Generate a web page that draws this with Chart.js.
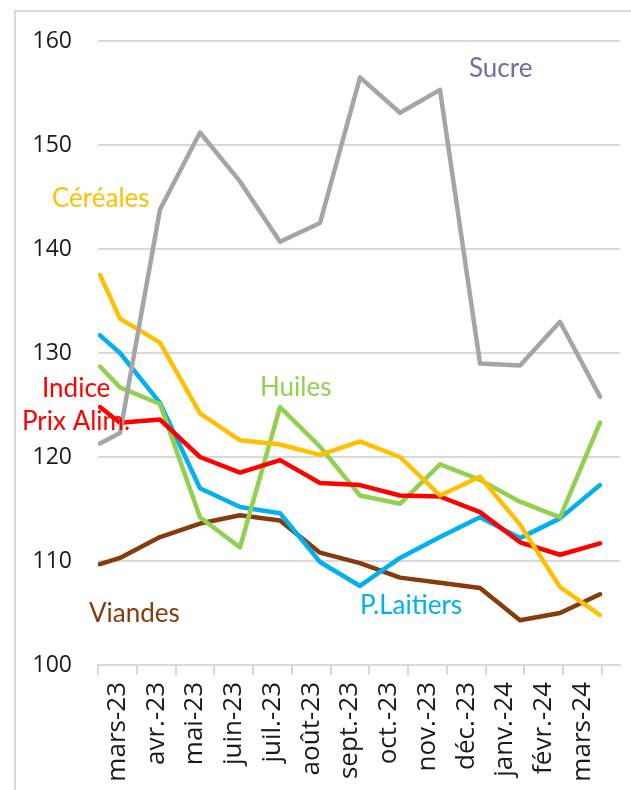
<!DOCTYPE html>
<html>
<head>
<meta charset="utf-8">
<script src="https://cdn.jsdelivr.net/npm/chart.js@4.4.1/dist/chart.umd.min.js"></script>
<style>
  body { margin: 0; background: #fff; }
  #wrap { position: relative; width: 631px; height: 790px; overflow: hidden; }
  #frame { position: absolute; left: 14px; top: 10px; width: 700px; height: 900px; border: 2px solid #d9d9d9; pointer-events: none; }
</style>
</head>
<body>
<div id="wrap">
  <canvas id="myChart" width="631" height="790"></canvas>
  <div id="frame"></div>
</div>
<script>
// month labels on the axis
const monthLabels = ['mars-23', 'avr.-23', 'mai-23', 'juin-23', 'juil.-23', 'août-23', 'sept.-23',
                     'oct.-23', 'nov.-23', 'déc.-23', 'janv.-24', 'févr.-24', 'mars-24'];
// month index of each point (mars-23 = 0, first point is mid-february)
const months = [-0.5, 0, 1, 2, 3, 4, 5, 6, 7, 8, 9, 10, 11, 12];

const sucre     = [121.3, 122.3, 143.8, 151.2, 146.5, 140.7, 142.5, 156.5, 153.1, 155.3, 129.0, 128.8, 133.0, 125.8];
const cereales  = [137.5, 133.3, 131.0, 124.2, 121.6, 121.2, 120.2, 121.5, 120.0, 116.3, 118.1, 113.5, 107.5, 104.8];
const indice    = [124.8, 123.3, 123.6, 120.0, 118.5, 119.7, 117.5, 117.3, 116.3, 116.2, 114.7, 111.8, 110.6, 111.7];
const huiles    = [128.7, 126.7, 125.1, 114.2, 111.3, 124.8, 121.0, 116.3, 115.5, 119.3, 117.8, 115.7, 114.2, 123.3];
const laitiers  = [131.7, 130.0, 125.2, 117.0, 115.2, 114.6, 109.9, 107.6, 110.3, 112.3, 114.2, 112.2, 114.1, 117.3];
const viandes   = [109.7, 110.3, 112.3, 113.6, 114.4, 113.9, 110.8, 109.8, 108.4, 107.9, 107.4, 104.3, 105.0, 106.8];

const yTicks = [100, 110, 120, 130, 140, 150, 160];

function pts(values) {
    return values.map((v, i) => ({ x: months[i], y: v }));
}

function serie(label, values, color) {
    return {
        label: label,
        data: pts(values),
        borderColor: color,
        backgroundColor: color,
        borderWidth: 4.5,
        pointRadius: 0,
        tension: 0,
        borderJoinStyle: 'round',
        borderCapStyle: 'round',
        xAxisID: 'xd',
        yAxisID: 'y'
    };
}

// series names written next to the lines
const notes = [
    { text: 'Sucre', x: 469, y: 77, color: '#6E6EA8' },
    { text: 'Céréales', x: 52, y: 207, color: '#FFC000' },
    { text: 'Indice', x: 42, y: 397, color: '#FF0000' },
    { text: 'Prix Alim.', x: 22, y: 430, color: '#FF0000' },
    { text: 'Huiles', x: 260, y: 396, color: '#92D050' },
    { text: 'Viandes', x: 89, y: 622, color: '#843C0C' },
    { text: 'P.Laitiers', x: 360, y: 614, color: '#00B0F0' }
];

const notesPlugin = {
    id: 'notes',
    afterDraw(chart) {
        const c = chart.ctx;
        c.save();
        c.font = '26px Lato';
        c.textAlign = 'left';
        c.textBaseline = 'alphabetic';
        notes.forEach(n => {
            c.fillStyle = n.color;
            c.fillText(n.text, n.x, n.y);
        });
        c.restore();
    }
};

const ctx = document.getElementById('myChart').getContext('2d');
const myChart = new Chart(ctx, {
    type: 'line',
    data: {
        datasets: [
            serie('Sucre', sucre, '#A5A5A5'),
            serie('Céréales', cereales, '#FFC000'),
            serie('Indice Prix Alim.', indice, '#FF0000'),
            serie('Huiles', huiles, '#92D050'),
            serie('P.Laitiers', laitiers, '#00B0F0'),
            serie('Viandes', viandes, '#843C0C')
        ]
    },
    options: {
        responsive: false,
        animation: false,
        layout: { padding: { left: 0, right: 11, top: 41, bottom: 0 } },
        plugins: {
            legend: { display: false },
            tooltip: { enabled: false }
        },
        scales: {
            xd: {
                type: 'linear',
                position: 'bottom',
                display: false,
                min: -0.55,
                max: 12.5
            },
            x: {
                type: 'linear',
                position: 'bottom',
                min: 0,
                max: 13.464,
                afterBuildTicks: axis => {
                    axis.ticks = monthLabels.map((_, i) => ({ value: i + 0.5 }));
                },
                afterFit: axis => { axis.height = 125; },
                grid: {
                    offset: true,
                    drawOnChartArea: false,
                    drawTicks: true,
                    tickLength: 10,
                    color: '#d9d9d9',
                    lineWidth: 2
                },
                border: { display: true, color: '#d9d9d9', width: 2 },
                ticks: {
                    autoSkip: false,
                    minRotation: 90,
                    maxRotation: 90,
                    padding: 7,
                    color: '#1a1a1a',
                    font: { family: 'Open Sans', size: 26 },
                    callback: (value, index) => monthLabels[index]
                }
            },
            y: {
                type: 'linear',
                min: 100,
                max: 160,
                afterBuildTicks: axis => {
                    axis.ticks = yTicks.map(v => ({ value: v }));
                },
                afterFit: axis => { axis.width = 98; },
                grid: {
                    drawTicks: false,
                    color: '#d9d9d9',
                    lineWidth: 2
                },
                border: { display: false },
                ticks: {
                    padding: 26,
                    color: '#1a1a1a',
                    font: { family: 'Open Sans', size: 23 }
                }
            }
        }
    },
    plugins: [notesPlugin]
});
</script>
</body>
</html>
